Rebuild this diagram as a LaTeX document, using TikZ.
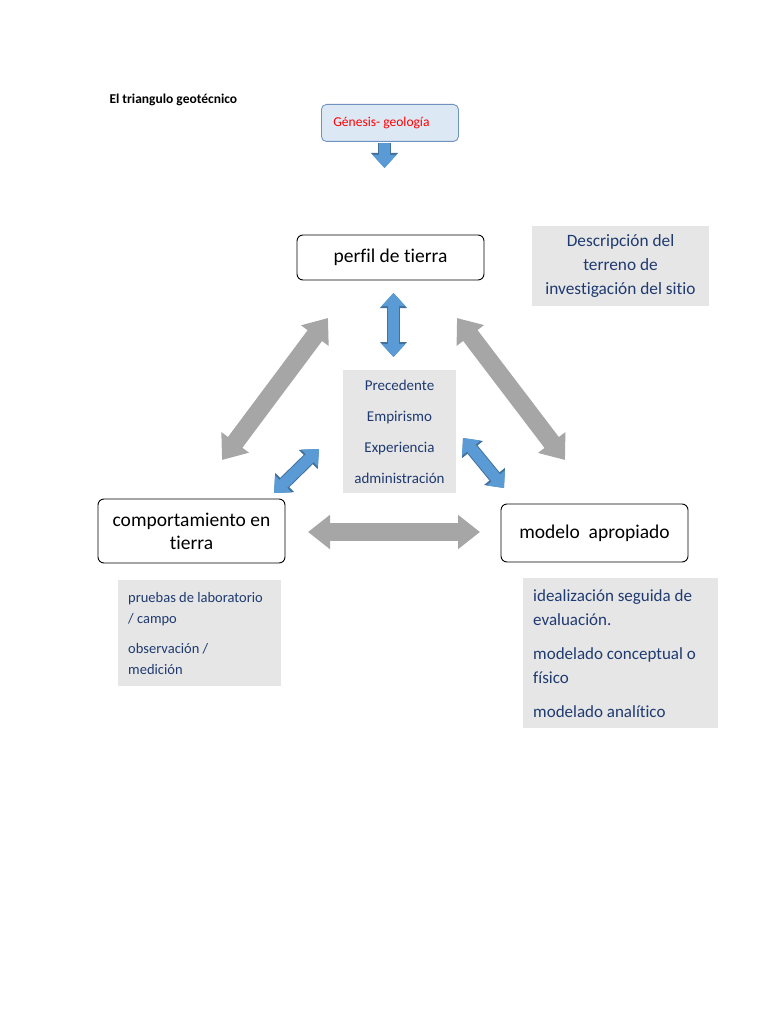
\documentclass[tikz,border=0pt]{standalone}
\usepackage{fontspec}
\setmainfont{Carlito}[Ligatures=NoCommon]
\usepackage{xcolor}
\usepackage{tikz}
\usetikzlibrary{arrows.meta, positioning, calc}

\definecolor{navytext}{HTML}{1F3A70}
\definecolor{boxgray}{HTML}{E6E6E6}
\definecolor{arrowgray}{HTML}{A6A6A6}
\definecolor{arrowblue}{HTML}{5B9BD5}
\definecolor{arrowedge}{HTML}{41719C}
\definecolor{genfill}{HTML}{DDE8F5}
\definecolor{genedge}{HTML}{6F93C0}

\begin{document}
\begin{tikzpicture}[x=1pt, y=-1pt,
    mainbox/.style={rectangle, draw, rounded corners=6pt, line width=0.9pt, align=center, font=\fontsize{19.5}{23}\selectfont},
    notebox/.style={rectangle, fill=boxgray, text=navytext},
    grayarrow/.style={draw=arrowgray, line width=18pt, {Triangle[length=22pt, width=33pt]}-{Triangle[length=22pt, width=33pt]}},
    bluearrow/.style={draw=arrowblue, line width=11pt, {Triangle[length=13pt, width=23pt]}-{Triangle[length=13pt, width=23pt]}},
    blueedge/.style={draw=arrowedge, line width=13pt, {Triangle[length=15pt, width=26pt]}-{Triangle[length=15pt, width=26pt]}}]
    \useasboundingbox (0,0) rectangle (768,1024);

    \node [anchor=west, font=\bfseries\fontsize{13.5}{15}\selectfont] (title) at (106,100) {El triangulo geotécnico};
    \node [rectangle, draw=genedge, fill=genfill, rounded corners=5pt, line width=0.9pt, anchor=north west, minimum width=137, minimum height=37, text width=113, inner xsep=12pt, align=flush left, text=red, font=\fontsize{13.5}{15}\selectfont] (gen) at (321,104) {Génesis- geología};

    \node [mainbox, minimum width=187, minimum height=45] (perfil) at (390.5,257.5) {perfil de tierra};
    \node [mainbox, minimum width=187, minimum height=64] (comp) at (191.5,531) {comportamiento en\\tierra};
    \node [mainbox, minimum width=187, minimum height=58] (modelo) at (594.5,533) {modelo\ \ apropiado};

    \node [notebox, minimum width=177, minimum height=80, align=center, font=\fontsize{17.3}{24}\selectfont] (desc) at (620.5,266) {Descripción del\\terreno de\\investigación del sitio};
    \node [notebox, minimum width=113, minimum height=123, align=center, font=\fontsize{15}{31}\selectfont] (centro) at (399.5,431.5) {Precedente\\Empirismo\\Experiencia\\administración};
    \node [notebox, anchor=north west, minimum height=106, text width=143, inner xsep=10pt, inner ysep=7pt, align=flush left, font=\fontsize{14.5}{21}\selectfont] (pruebas) at (118,580) {pruebas de laboratorio\\/ campo\\[9pt]observación /\\medición};
    \node [notebox, anchor=north west, minimum height=150, text width=175, inner xsep=10pt, inner ysep=6pt, align=flush left, font=\fontsize{17}{24}\selectfont] (ideal) at (523,578) {idealización seguida de\\evaluación.\\[10pt]modelado conceptual o\\físico\\[10pt]modelado analítico};

    % ends of the arrows
    \coordinate (genA) at (384.5,143);
    \coordinate (genB) at (384.5,168);
    \coordinate (vA) at (393.5,293);
    \coordinate (vB) at (393.5,357);
    \coordinate (lA) at (328,318);
    \coordinate (lB) at (222,460);
    \coordinate (rA) at (457,318);
    \coordinate (rB) at (565,460);
    \coordinate (hA) at (308,532);
    \coordinate (hB) at (480,532);
    \coordinate (blA) at (319,449);
    \coordinate (blB) at (274,493);
    \coordinate (brA) at (463,438);
    \coordinate (brB) at (504,488);

    \draw [draw=arrowedge, line width=13pt, -{Triangle[length=15pt, width=26pt]}] (genA) -- (genB);
    \draw [draw=arrowblue, line width=11pt, -{Triangle[length=13pt, width=23pt]}] (genA) -- (genB);
    \foreach \a/\b in {vA/vB, blA/blB, brA/brB} {
        \draw [blueedge] (\a) -- (\b);
        \draw [bluearrow] (\a) -- (\b);
    }
    \draw [grayarrow] (lA) -- (lB);
    \draw [grayarrow] (rA) -- (rB);
    \draw [grayarrow] (hA) -- (hB);
\end{tikzpicture}
\end{document}
